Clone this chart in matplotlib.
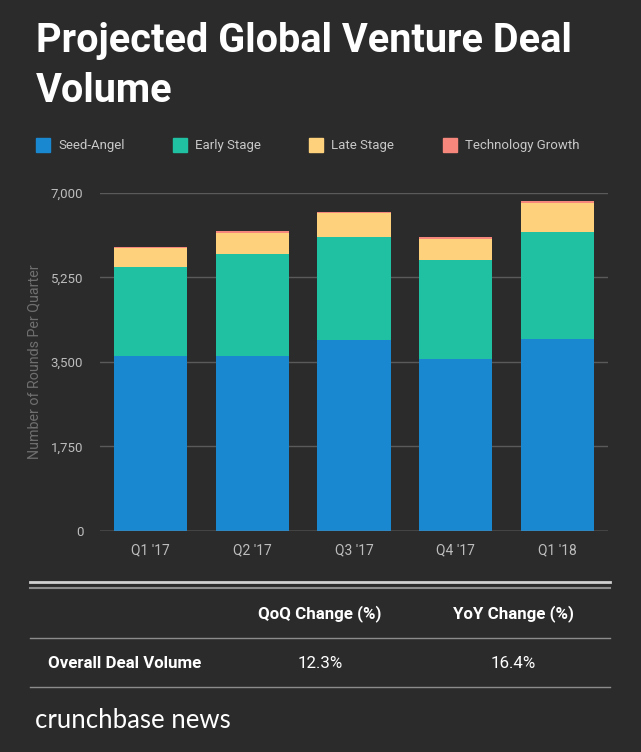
import numpy as np
import matplotlib
matplotlib.use("Agg")
import matplotlib.pyplot as plt
from matplotlib.patches import Rectangle
from matplotlib.lines import Line2D

quarters = ["Q1 '17", "Q2 '17", "Q3 '17", "Q4 '17", "Q1 '18"]
seed_angel = [3630, 3630, 3950, 3560, 3975]
early_stage = [1830, 2105, 2140, 2055, 2225]
late_stage = [395, 430, 490, 435, 600]
tech_growth = [20, 45, 35, 35, 35]
series_names = ["Seed-Angel", "Early Stage", "Late Stage", "Technology Growth"]
y_ticks = [0, 1750, 3500, 5250, 7000]
table_header = ["QoQ Change (%)", "YoY Change (%)"]
table_row_label = "Overall Deal Volume"
table_row = ["12.3%", "16.4%"]

bg = "#2b2b2b"
colors = ["#1a88d1", "#20c0a2", "#fed27d", "#f6877d"]
plt.rcParams["font.family"] = ["Roboto", "DejaVu Sans"]

fig = plt.figure(figsize=(6.41, 7.52), dpi=100, facecolor=bg)
W, H = 641, 752


def fx(px):
    return px / W


def fy(py):
    return 1 - py / H


# title
fig.text(fx(36), fy(52), "Projected Global Venture Deal", color="white",
         fontsize=28.5, fontweight="bold", va="baseline")
fig.text(fx(36), fy(102), "Volume", color="white",
         fontsize=28.5, fontweight="bold", va="baseline")

# legend
leg_x = [36, 173, 309, 443]
for i, name in enumerate(series_names):
    fig.patches.append(Rectangle((fx(leg_x[i]), fy(152)), fx(14), 14 / H,
                                 transform=fig.transFigure, color=colors[i]))
    fig.text(fx(leg_x[i] + 22), fy(145.5), name, color="#c8c8c8",
             fontsize=9.5, va="center")

ax = fig.add_axes([fx(100), fy(530.7), fx(508), (530.7 - 193) / H])
ax.set_facecolor(bg)
x = np.arange(len(quarters))
bottom = np.zeros(len(quarters))
for vals, c in zip([seed_angel, early_stage, late_stage, tech_growth], colors):
    ax.bar(x, vals, bottom=bottom, width=0.72, color=c, zorder=3)
    bottom += np.array(vals)

ax.set_xlim(-0.5, 4.5)
ax.set_ylim(0, 7000)
ax.set_yticks(y_ticks)
ax.set_yticklabels([f"{v:,}" for v in y_ticks])
ax.set_xticks(x)
ax.set_xticklabels(quarters)
ax.tick_params(axis="y", length=0, pad=12, colors="#bdbdbd", labelsize=9.5)
ax.tick_params(axis="x", length=0, pad=9, colors="#bdbdbd", labelsize=10)
ax.grid(axis="y", color="#5a5a5a", linewidth=1, zorder=0)
for s in ax.spines.values():
    s.set_visible(False)
ax.axhline(0, color="#8a8a8a", linewidth=1, zorder=4)
ax.set_ylabel("Number of Rounds Per Quarter", color="#6f6f6f", fontsize=10.3,
              labelpad=7)

# table
fig.lines.append(Line2D([fx(30), fx(610)], [fy(582), fy(582)],
                        transform=fig.transFigure, color="#d0d0d0", lw=2))
fig.lines.append(Line2D([fx(30), fx(610)], [fy(587.5), fy(587.5)],
                        transform=fig.transFigure, color="#8c8c8c", lw=1.5))
for yy in [637.7, 686.7]:
    fig.lines.append(Line2D([fx(30), fx(610)], [fy(yy), fy(yy)],
                            transform=fig.transFigure, color="#8c8c8c", lw=1))
col_x = [320, 513]
for cx, h, v in zip(col_x, table_header, table_row):
    fig.text(fx(cx), fy(614), h, color="white", fontsize=12.2,
             fontweight="bold", ha="center", va="center")
    fig.text(fx(cx), fy(663), v, color="white", fontsize=12.2,
             ha="center", va="center")
fig.text(fx(48), fy(663), table_row_label, color="white", fontsize=12.2,
         fontweight="bold", va="center")

fig.text(fx(35), fy(720), "crunchbase news", color="white", fontsize=18.5,
         va="center", family=["Lato", "DejaVu Sans"])

fig.savefig("out.png", dpi=100, facecolor=bg)
